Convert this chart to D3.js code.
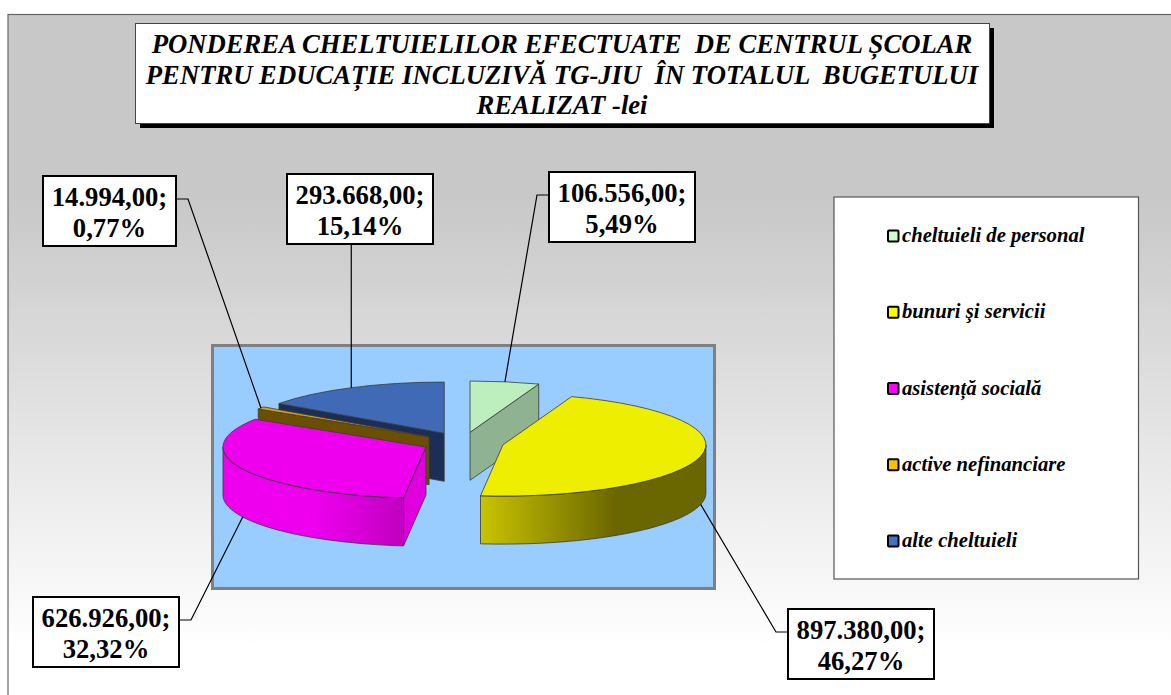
<!DOCTYPE html>
<html>
<head>
<meta charset="utf-8">
<script src="https://cdn.jsdelivr.net/npm/d3@7"></script>
<style>
  html, body { margin: 0; padding: 0; background: #fff; overflow: hidden; }
  svg { display: block; }
  text { font-family: "Liberation Serif", serif; fill: #000; white-space: pre; }
</style>
</head>
<body>
<div class="pie-plot"></div>
<script>
// data
const categories = ['cheltuieli de personal', 'bunuri şi servicii', 'asistență socială', 'active nefinanciare', 'alte cheltuieli'];
const values = [106556, 897380, 626926, 14994, 293668];
const titleLines = ['PONDEREA CHELTUIELILOR EFECTUATE  DE CENTRUL ȘCOLAR', 'PENTRU EDUCAȚIE INCLUZIVĂ TG-JIU  ÎN TOTALUL  BUGETULUI', 'REALIZAT -lei'];

// colours: legend, top face, radial face
const legendColors = ['#ccffcc', '#ffff00', '#ff00ff', '#ffc000', '#4472c4'];
const topColors = ['#bdeebd', '#eeee00', '#ee00ee', '#e0a000', '#3f6bb5'];
const faceColors = ['#8fb391', '#6b6600', '#e000de', '#6b4f00', '#1b2f57'];
// wall gradient stops per slice (only the front slices show a wall)
const wallStops = [
  [[0, '#8fb391'], [1, '#8fb391']],
  [[0, '#c8c400'], [0.6, '#6b6600'], [1, '#6b6600']],
  [[0, '#ee00ee'], [0.5, '#ee00ee'], [1, '#c000c0']],
  [[0, '#6b4f00'], [1, '#6b4f00']],
  [[0, '#1b2f57'], [1, '#1b2f57']]
];
// label boxes, top left corner, and the side the leader leaves from
const labelBoxes = [
  {x: 549, y: 172, w: 146, side: 'left'},
  {x: 788, y: 609, w: 146, side: 'left'},
  {x: 33, y: 597, w: 146, side: 'right'},
  {x: 43, y: 176, w: 133, side: 'right'},
  {x: 287, y: 174, w: 146, side: 'bottom'}
];

const width = 1171;
const height = 695;
const svg = d3.select('.pie-plot').append('svg')
  .attr('width', width)
  .attr('height', height);
const defs = svg.append('defs');

// the reference is a slightly soft scan, keep the pie edges soft too
defs.append('filter').attr('id', 'soft')
  .append('feGaussianBlur').attr('stdDeviation', 0.5);

// chart background
const bg = defs.append('linearGradient').attr('id', 'chartBg')
  .attr('gradientUnits', 'userSpaceOnUse')
  .attr('x1', 0).attr('x2', 0).attr('y1', 14).attr('y2', 695);
bg.append('stop').attr('offset', 0.27).attr('stop-color', '#c8c8c8');
bg.append('stop').attr('offset', 0.93).attr('stop-color', '#ffffff');
svg.append('rect')
  .attr('x', 8).attr('y', 14.5)
  .attr('width', 1180).attr('height', 700)
  .attr('fill', 'url(#chartBg)')
  .attr('stroke', '#666')
  .attr('stroke-width', 1.2);

// title box
svg.append('rect').attr('x', 140).attr('y', 28).attr('width', 854).attr('height', 100).attr('fill', '#000');
svg.append('rect').attr('x', 135.5).attr('y', 23.5).attr('width', 854).attr('height', 100)
  .attr('fill', '#fff').attr('stroke', '#444').attr('stroke-width', 1);
svg.selectAll('text.title')
  .data(titleLines)
  .enter()
  .append('text')
  .attr('class', 'title')
  .text(d => d)
  .attr('x', 562)
  .attr('y', (d, i) => 53 + i * 30.5)
  .attr('text-anchor', 'middle')
  .attr('font-size', 26.67)
  .attr('font-weight', 'bold')
  .attr('font-style', 'italic');

// plot area
svg.append('rect').attr('x', 212.5).attr('y', 345.5).attr('width', 502).attr('height', 243)
  .attr('fill', '#99ccff').attr('stroke', '#808080').attr('stroke-width', 3);

// 3d pie
const cx = 463, cy = 442.5;
const R = 203, tilt = 0.2525;
const depth = 48, explode = 41;

const slices = d3.pie().sort(null)(values).map((d, i) => {
  const mid = (d.startAngle + d.endAngle) / 2;
  return {
    ...d,
    i,
    mid,
    ox: cx + explode * Math.sin(mid),
    oy: cy - explode * tilt * Math.cos(mid)
  };
});
const rim = (s, a, down) => [s.ox + R * Math.sin(a), s.oy - R * tilt * Math.cos(a) + (down || 0)];

const arc = d3.arc().innerRadius(0).outerRadius(R);
const line = d3.line();
const edgeColor = '#3a3a3a';

// blue at the back first, then brown, magenta, green, yellow
const order = [4, 3, 2, 0, 1];
const pie = svg.append('g').attr('class', 'pie').attr('filter', 'url(#soft)');

order.forEach(i => {
  const s = slices[i];
  const g = pie.append('g');

  // radial faces, only the ones turned to the viewer
  [[s.startAngle, Math.sin(s.startAngle) < -1e-6], [s.endAngle, Math.sin(s.endAngle) > 1e-6]].forEach(f => {
    if (!f[1]) return;
    g.append('path')
      .attr('d', line([[s.ox, s.oy], rim(s, f[0]), rim(s, f[0], depth), [s.ox, s.oy + depth]]) + 'Z')
      .attr('fill', faceColors[i])
      .attr('stroke', edgeColor)
      .attr('stroke-width', 0.8);
  });

  // outer wall on the front half
  const a0 = Math.max(s.startAngle, Math.PI / 2);
  const a1 = Math.min(s.endAngle, Math.PI * 1.5);
  if (a1 > a0) {
    const grad = defs.append('linearGradient').attr('id', 'wall' + i);
    wallStops[i].forEach(st => grad.append('stop').attr('offset', st[0]).attr('stop-color', st[1]));
    const angles = d3.range(a0, a1, 0.02).concat([a1]);
    const pts = angles.map(a => rim(s, a)).concat(angles.slice().reverse().map(a => rim(s, a, depth)));
    g.append('path')
      .attr('d', line(pts) + 'Z')
      .attr('fill', 'url(#wall' + i + ')')
      .attr('stroke', edgeColor)
      .attr('stroke-width', 0.8);
  }

  // top face
  g.append('path')
    .attr('d', arc(s))
    .attr('transform', `translate(${s.ox},${s.oy}) scale(1,${tilt})`)
    .attr('fill', topColors[i])
    .attr('stroke', edgeColor)
    .attr('stroke-width', 0.8)
    .attr('vector-effect', 'non-scaling-stroke');
});

// number format with romanian separators
const ro = d3.formatLocale({decimal: ',', thousands: '.', grouping: [3], currency: ['', ' lei']});
const fmtValue = ro.format(',.2f');
const fmtPct = ro.format('.2f');
const total = d3.sum(values);

// leader lines
const boxH = 70;
const leader = slices.map(s => {
  const b = labelBoxes[s.i];
  const front = Math.cos(s.mid) < 0;
  const end = rim(s, s.mid, front ? depth : 0);
  if (b.side === 'bottom') return [[end[0], b.y + boxH], end];
  const ly = b.y + 23;
  if (b.side === 'left') return [[b.x, ly], [b.x - 12, ly], end];
  return [[b.x + b.w, ly], [b.x + b.w + 12, ly], end];
});
svg.selectAll('path.leader')
  .data(leader)
  .enter()
  .append('path')
  .attr('class', 'leader')
  .attr('d', d => line(d))
  .attr('fill', 'none')
  .attr('stroke', '#000')
  .attr('stroke-width', 1.2);

// data labels
const labels = svg.selectAll('g.label')
  .data(slices)
  .enter()
  .append('g')
  .attr('class', 'label')
  .attr('transform', d => `translate(${labelBoxes[d.i].x},${labelBoxes[d.i].y})`);
labels.append('rect')
  .attr('width', d => labelBoxes[d.i].w)
  .attr('height', boxH)
  .attr('fill', '#fff')
  .attr('stroke', '#000')
  .attr('stroke-width', 2);
labels.append('text')
  .text(d => fmtValue(d.value) + ';')
  .attr('x', d => labelBoxes[d.i].w / 2)
  .attr('y', 30)
  .attr('text-anchor', 'middle')
  .attr('font-size', 26.67)
  .attr('font-weight', 'bold');
labels.append('text')
  .text(d => fmtPct(d.value / total * 100) + '%')
  .attr('x', d => labelBoxes[d.i].w / 2)
  .attr('y', 60.5)
  .attr('text-anchor', 'middle')
  .attr('font-size', 26.67)
  .attr('font-weight', 'bold');

// legend
svg.append('rect').attr('x', 834).attr('y', 197).attr('width', 304.5).attr('height', 382)
  .attr('fill', '#fff').attr('stroke', '#555').attr('stroke-width', 1.2);
const legendY = d3.scalePoint().domain(categories).range([236, 541]);
svg.selectAll('rect.swatch')
  .data(categories)
  .enter()
  .append('rect')
  .attr('class', 'swatch')
  .attr('x', 888)
  .attr('y', d => legendY(d) - 5.5)
  .attr('width', 10.5)
  .attr('height', 11)
  .attr('rx', 1)
  .attr('fill', (d, i) => legendColors[i])
  .attr('stroke', '#000')
  .attr('stroke-width', 2);
svg.selectAll('text.legend')
  .data(categories)
  .enter()
  .append('text')
  .attr('class', 'legend')
  .text(d => d)
  .attr('x', 902)
  .attr('y', d => legendY(d) + 6)
  .attr('font-size', 20.67)
  .attr('font-weight', 'bold')
  .attr('font-style', 'italic');
</script>
</body>
</html>
